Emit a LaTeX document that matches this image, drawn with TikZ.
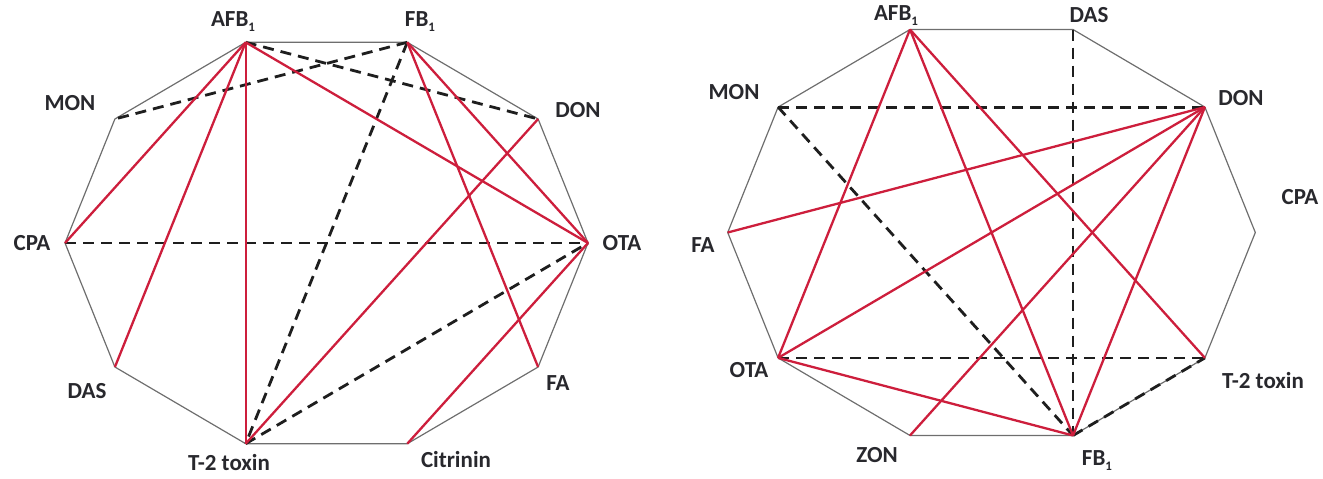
\documentclass[tikz,border=0pt]{standalone}
\usepackage{fontspec}
\setmainfont{Carlito}
\definecolor{polygray}{RGB}{110,110,110}
\definecolor{linered}{RGB}{205,30,60}
\definecolor{dashgray}{RGB}{30,30,30}
\definecolor{labelgray}{RGB}{40,40,45}
\newcommand{\sbone}{\raisebox{-0.45ex}{\fontsize{13}{13}\selectfont 1}}
\begin{document}
\begin{tikzpicture}[x=1pt,y=-1pt,
  poly/.style={draw=polygray, line width=1.2pt, line join=round},
  redline/.style={draw=linered, line width=2.3pt},
  dashline/.style={draw=dashgray, line width=2.8pt, dash pattern=on 11pt off 7pt},
  lbl/.style={font=\bfseries\fontsize{23}{25}\selectfont, text=labelgray, inner sep=0pt}]
\useasboundingbox (0,0) rectangle (1323,479);

% ---------- left decagon vertices ----------
\coordinate (LOTA) at (588,243);
\coordinate (LDON) at (538.1,119);
\coordinate (LFB)  at (407.3,42.3);
\coordinate (LAFB) at (245.7,42.3);
\coordinate (LMON) at (114.9,119);
\coordinate (LCPA) at (65,243);
\coordinate (LDAS) at (114.9,367);
\coordinate (LT2)  at (245.7,443.7);
\coordinate (LCIT) at (407.3,443.7);
\coordinate (LFA)  at (538.1,367);

\draw[poly] (LOTA) -- (LDON) -- (LFB) -- (LAFB) -- (LMON) -- (LCPA) -- (LDAS) -- (LT2) -- (LCIT) -- (LFA) -- cycle;

% dashed
\draw[dashline] (LAFB) -- (LDON);
\draw[dashline] (LFB) -- (LMON);
\draw[dashline] (LFB) -- (LT2);
\draw[dashline] (LCPA) -- (LOTA);
\draw[dashline] (LT2) -- (LOTA);
% red
\draw[redline] (LAFB) -- (LCPA);
\draw[redline] (LAFB) -- (LDAS);
\draw[redline] (LAFB) -- (LT2);
\draw[redline] (LAFB) -- (LOTA);
\draw[redline] (LFB) -- (LFA);
\draw[redline] (LFB) -- (LOTA);
\draw[redline] (LDON) -- (LT2);
\draw[redline] (LCIT) -- (LOTA);

% labels left
\node[lbl] (lAFBt) at (233,22) {AFB\sbone};
\node[lbl] (lFBt)  at (420,22) {FB\sbone};
\node[lbl] (lMONt) at (70,103) {MON};
\node[lbl] (lDONt) at (578,110) {DON};
\node[lbl] (lCPAt) at (32,243) {CPA};
\node[lbl] (lOTAt) at (622,243) {OTA};
\node[lbl] (lDASt) at (87,391) {DAS};
\node[lbl] (lFAt)  at (558,383) {FA};
\node[lbl] (lT2t)  at (229,463) {T-2 toxin};
\node[lbl] (lCITt) at (456,460) {Citrinin};

% ---------- right decagon vertices ----------
\coordinate (RCPA) at (1255.3,232.5);
\coordinate (RDON) at (1204.9,107.1);
\coordinate (RDAS) at (1073,29.5);
\coordinate (RAFB) at (910,29.5);
\coordinate (RMON) at (778.1,107.1);
\coordinate (RFA)  at (727.7,232.5);
\coordinate (ROTA) at (778.1,357.9);
\coordinate (RZON) at (910,435.5);
\coordinate (RFB)  at (1073,435.5);
\coordinate (RT2)  at (1204.9,357.9);

\draw[poly] (RCPA) -- (RDON) -- (RDAS) -- (RAFB) -- (RMON) -- (RFA) -- (ROTA) -- (RZON) -- (RFB) -- (RT2) -- cycle;

% dashed
\draw[dashline] (RMON) -- (RDON);
\draw[dashline] (RMON) -- (RFB);
\draw[dashline] (RDAS) -- (RFB);
\draw[dashline] (ROTA) -- (RT2);
\draw[dashline] (RFB) -- (RT2);
% red
\draw[redline] (RAFB) -- (ROTA);
\draw[redline] (RAFB) -- (RFB);
\draw[redline] (RAFB) -- (RT2);
\draw[redline] (RDON) -- (RFA);
\draw[redline] (RDON) -- (ROTA);
\draw[redline] (RDON) -- (RZON);
\draw[redline] (RDON) -- (RFB);
\draw[redline] (ROTA) -- (RFB);

% labels right
\node[lbl] (rAFBt) at (896,16) {AFB\sbone};
\node[lbl] (rDASt) at (1089,15) {DAS};
\node[lbl] (rMONt) at (734,92) {MON};
\node[lbl] (rDONt) at (1241,98) {DON};
\node[lbl] (rCPAt) at (1300,197) {CPA};
\node[lbl] (rFAt)  at (703,245) {FA};
\node[lbl] (rOTAt) at (749,370) {OTA};
\node[lbl] (rT2t)  at (1263,381) {T-2 toxin};
\node[lbl] (rZONt) at (877,455) {ZON};
\node[lbl] (rFBt)  at (1097,461) {FB\sbone};
\end{tikzpicture}
\end{document}
